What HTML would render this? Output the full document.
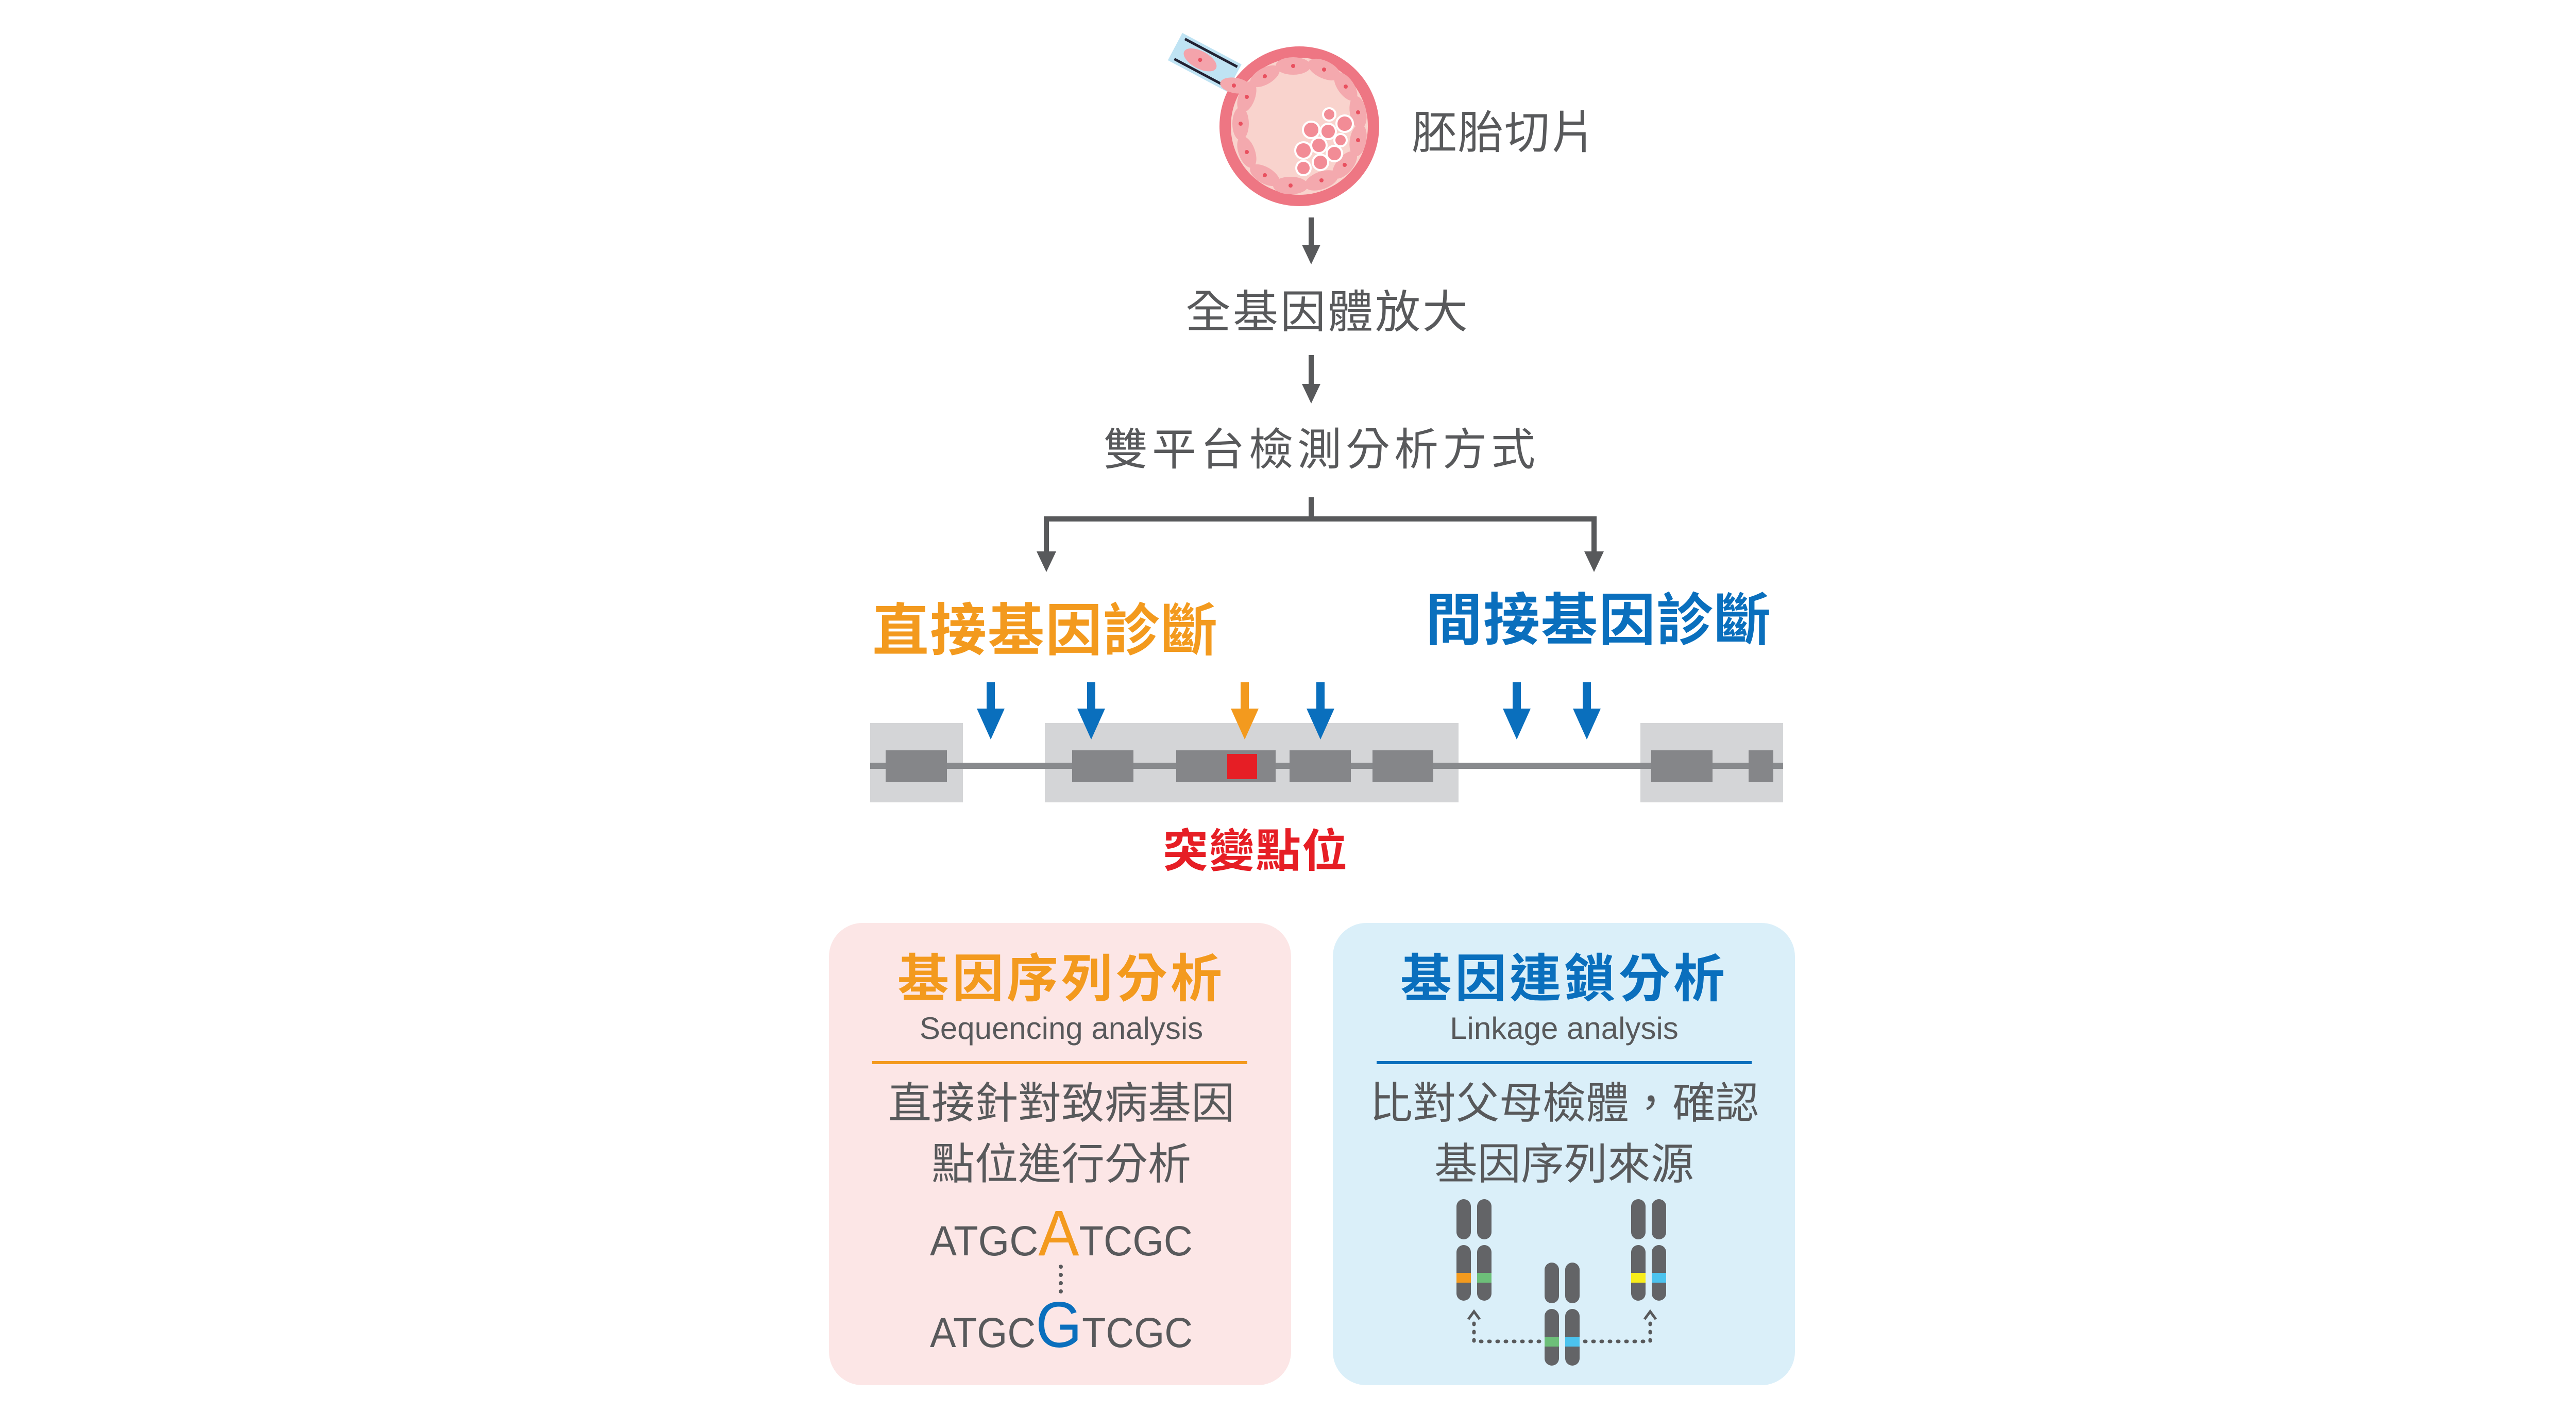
<!DOCTYPE html>
<html><head><meta charset="utf-8"><style>
html,body{margin:0;padding:0;background:#fff;}
svg{display:block;}
text{font-family:"Liberation Sans","Noto Sans CJK TC",sans-serif;}
</style></head><body>
<svg width="5072" height="2740" viewBox="0 0 5072 2740" xmlns="http://www.w3.org/2000/svg">
<!-- pipette -->
<g transform="translate(2378,142) rotate(28)">
<rect x="-110" y="-30" width="130" height="60" fill="#bfe3f3"/>
<line x1="-100" y1="-22" x2="15" y2="-22" stroke="#223" stroke-width="5"/>
<line x1="-100" y1="22" x2="15" y2="22" stroke="#223" stroke-width="5"/>
<ellipse cx="-55" cy="0" rx="35" ry="17" fill="#f4a3ab"/>
<circle cx="-55" cy="0" r="4" fill="#e9505f"/>
</g>
<!-- embryo -->
<circle cx="2522" cy="245" r="155" fill="#ee7683"/>
<circle cx="2522" cy="245" r="133" fill="#f9d3cd"/>
<g fill="#f4a9ae">
<ellipse cx="2510" cy="128" rx="34" ry="17"/>
<ellipse cx="2570" cy="135" rx="34" ry="17" transform="rotate(25 2570 135)"/>
<ellipse cx="2612" cy="168" rx="32" ry="16" transform="rotate(55 2612 168)"/>
<ellipse cx="2636" cy="218" rx="32" ry="16" transform="rotate(80 2636 218)"/>
<ellipse cx="2636" cy="272" rx="32" ry="16" transform="rotate(100 2636 272)"/>
<ellipse cx="2610" cy="320" rx="32" ry="16" transform="rotate(130 2610 320)"/>
<ellipse cx="2565" cy="350" rx="34" ry="17" transform="rotate(160 2565 350)"/>
<ellipse cx="2505" cy="360" rx="34" ry="17"/>
<ellipse cx="2455" cy="340" rx="32" ry="16" transform="rotate(30 2455 340)"/>
<ellipse cx="2420" cy="295" rx="32" ry="16" transform="rotate(70 2420 295)"/>
<ellipse cx="2408" cy="240" rx="32" ry="16" transform="rotate(90 2408 240)"/>
<ellipse cx="2420" cy="188" rx="32" ry="16" transform="rotate(110 2420 188)"/>
<ellipse cx="2455" cy="148" rx="32" ry="16" transform="rotate(150 2455 148)"/>
<ellipse cx="2398" cy="166" rx="30" ry="15" transform="rotate(10 2398 166)"/>
</g>
<g fill="#e9505f">
<circle cx="2510" cy="128" r="4"/><circle cx="2570" cy="135" r="4"/><circle cx="2612" cy="168" r="4"/><circle cx="2636" cy="218" r="4"/><circle cx="2636" cy="272" r="4"/><circle cx="2610" cy="320" r="4"/><circle cx="2565" cy="350" r="4"/><circle cx="2505" cy="360" r="4"/><circle cx="2455" cy="340" r="4"/><circle cx="2420" cy="295" r="4"/><circle cx="2408" cy="240" r="4"/><circle cx="2420" cy="188" r="4"/><circle cx="2455" cy="148" r="4"/><circle cx="2395" cy="166" r="4"/>
</g>
<g fill="#f28c96" stroke="#fff" stroke-width="4">
<circle cx="2580" cy="222" r="12"/><circle cx="2610" cy="240" r="16"/><circle cx="2545" cy="252" r="16"/><circle cx="2578" cy="255" r="15"/><circle cx="2602" cy="272" r="12"/><circle cx="2560" cy="282" r="15"/><circle cx="2530" cy="292" r="16"/><circle cx="2590" cy="298" r="15"/><circle cx="2563" cy="315" r="15"/><circle cx="2530" cy="326" r="14"/>
</g>
<text x="2740" y="288" font-size="88" fill="#58595b" letter-spacing="2">胚胎切片</text>
<!-- arrows down -->
<g fill="#58595b" stroke="#58595b">
<line x1="2545" y1="422" x2="2545" y2="480" stroke-width="10"/>
<polygon points="2527,475 2563,475 2545,513" stroke="none"/>
<line x1="2545" y1="689" x2="2545" y2="750" stroke-width="10"/>
<polygon points="2527,745 2563,745 2545,783" stroke="none"/>
</g>
<text x="2577" y="636" font-size="88" fill="#58595b" text-anchor="middle" letter-spacing="4">全基因體放大</text>
<text x="2565" y="902" font-size="86" fill="#58595b" text-anchor="middle" letter-spacing="8">雙平台檢測分析方式</text>
<!-- branch -->
<g fill="none" stroke="#58595b" stroke-width="10">
<line x1="2545" y1="965" x2="2545" y2="1007"/>
<polyline points="2031,1075 2031,1007 3094,1007 3094,1075"/>
</g>
<polygon points="2012,1070 2050,1070 2031,1110" fill="#58595b"/>
<polygon points="3075,1070 3113,1070 3094,1110" fill="#58595b"/>
<text x="2029" y="1262" font-size="110" font-weight="bold" fill="#f39a1e" text-anchor="middle" letter-spacing="2">直接基因診斷</text>
<text x="3103" y="1242" font-size="110" font-weight="bold" fill="#0a6fbd" text-anchor="middle" letter-spacing="2">間接基因診斷</text>
<!-- gene track -->
<g fill="#d4d5d7">
<rect x="1689" y="1403" width="180" height="154"/>
<rect x="2028" y="1403" width="803" height="154"/>
<rect x="3184" y="1403" width="277" height="154"/>
</g>
<rect x="1689" y="1480" width="1772" height="12" fill="#888a8d"/>
<g fill="#858689">
<rect x="1719" y="1456" width="119" height="61"/>
<rect x="2081" y="1456" width="119" height="61"/>
<rect x="2283" y="1456" width="193" height="61"/>
<rect x="2503" y="1456" width="119" height="61"/>
<rect x="2664" y="1456" width="118" height="61"/>
<rect x="3205" y="1456" width="119" height="61"/>
<rect x="3394" y="1456" width="48" height="61"/>
</g>
<rect x="2382" y="1463" width="58" height="49" fill="#e61e25"/>
<g fill="#0a6fbd">
<rect x="1915" y="1324" width="16" height="55"/><polygon points="1896,1375 1950,1375 1923,1435"/>
<rect x="2110" y="1324" width="16" height="55"/><polygon points="2091,1375 2145,1375 2118,1435"/>
<rect x="2555" y="1324" width="16" height="55"/><polygon points="2536,1375 2590,1375 2563,1435"/>
<rect x="2936" y="1324" width="16" height="55"/><polygon points="2917,1375 2971,1375 2944,1435"/>
<rect x="3072" y="1324" width="16" height="55"/><polygon points="3053,1375 3107,1375 3080,1435"/>
</g>
<g fill="#f39a1e"><rect x="2408" y="1324" width="16" height="55"/><polygon points="2389,1375 2443,1375 2416,1435"/></g>
<text x="2437" y="1682" font-size="88" font-weight="bold" fill="#e61e25" text-anchor="middle" letter-spacing="2">突變點位</text>
<!-- panels -->
<rect x="1609" y="1791" width="897" height="897" rx="65" fill="#fce6e6"/>
<rect x="2587" y="1791" width="897" height="897" rx="65" fill="#daeff9"/>
<text x="2060" y="1934" font-size="100" font-weight="bold" fill="#f39a1e" text-anchor="middle" letter-spacing="6">基因序列分析</text>
<text x="2060" y="2016" font-size="60" fill="#58595b" text-anchor="middle">Sequencing analysis</text>
<rect x="1693" y="2059" width="728" height="6" fill="#f39a1e"/>
<text x="2060" y="2170" font-size="84" fill="#58595b" text-anchor="middle">直接針對致病基因</text>
<text x="2060" y="2288" font-size="84" fill="#58595b" text-anchor="middle">點位進行分析</text>
<text x="2060" y="2436" font-size="82" fill="#58595b" text-anchor="middle" textLength="510" lengthAdjust="spacingAndGlyphs">ATGC<tspan fill="#f39a1e" font-size="125">A</tspan>TCGC</text>
<g fill="#58595b"><circle cx="2059" cy="2458" r="4"/><circle cx="2059" cy="2474" r="4"/><circle cx="2059" cy="2490" r="4"/><circle cx="2059" cy="2506" r="4"/></g>
<text x="2060" y="2614" font-size="82" fill="#58595b" text-anchor="middle" textLength="510" lengthAdjust="spacingAndGlyphs">ATGC<tspan fill="#0a6fbd" font-size="125">G</tspan>TCGC</text>

<text x="3036" y="1934" font-size="100" font-weight="bold" fill="#0a6fbd" text-anchor="middle" letter-spacing="6">基因連鎖分析</text>
<text x="3036" y="2016" font-size="60" fill="#58595b" text-anchor="middle">Linkage analysis</text>
<rect x="2672" y="2059" width="728" height="6" fill="#0a6fbd"/>
<text x="3036" y="2170" font-size="84" fill="#58595b" text-anchor="middle">比對父母檢體，確認</text>
<text x="3036" y="2288" font-size="84" fill="#58595b" text-anchor="middle">基因序列來源</text>
<!-- chromosomes -->
<g fill="#636467">
<rect x="2827" y="2327" width="28" height="78" rx="14"/><rect x="2867" y="2327" width="28" height="78" rx="14"/>
<rect x="2827" y="2416" width="28" height="108" rx="14"/><rect x="2867" y="2416" width="28" height="108" rx="14"/>
<rect x="3166" y="2327" width="28" height="78" rx="14"/><rect x="3206" y="2327" width="28" height="78" rx="14"/>
<rect x="3166" y="2416" width="28" height="108" rx="14"/><rect x="3206" y="2416" width="28" height="108" rx="14"/>
<rect x="2998" y="2450" width="28" height="79" rx="14"/><rect x="3038" y="2450" width="28" height="79" rx="14"/>
<rect x="2998" y="2540" width="28" height="110" rx="14"/><rect x="3038" y="2540" width="28" height="110" rx="14"/>
</g>
<rect x="2827" y="2470" width="28" height="19" fill="#f39a1e"/>
<rect x="2867" y="2470" width="28" height="19" fill="#6dbf79"/>
<rect x="3166" y="2470" width="28" height="19" fill="#f7ec1b"/>
<rect x="3206" y="2470" width="28" height="19" fill="#4cc3ee"/>
<rect x="2998" y="2594" width="28" height="19" fill="#6dbf79"/>
<rect x="3038" y="2594" width="28" height="19" fill="#4cc3ee"/>
<g fill="none" stroke="#58595b" stroke-width="7" stroke-dasharray="2 14" stroke-linecap="round">
<polyline points="2861,2568 2861,2603 2990,2603"/>
<polyline points="3203,2568 3203,2603 3074,2603"/>
</g>
<g fill="none" stroke="#58595b" stroke-width="5">
<polyline points="2850,2560 2861,2545 2872,2560"/>
<polyline points="3192,2560 3203,2545 3214,2560"/>
</g>
</svg>
</body></html>
